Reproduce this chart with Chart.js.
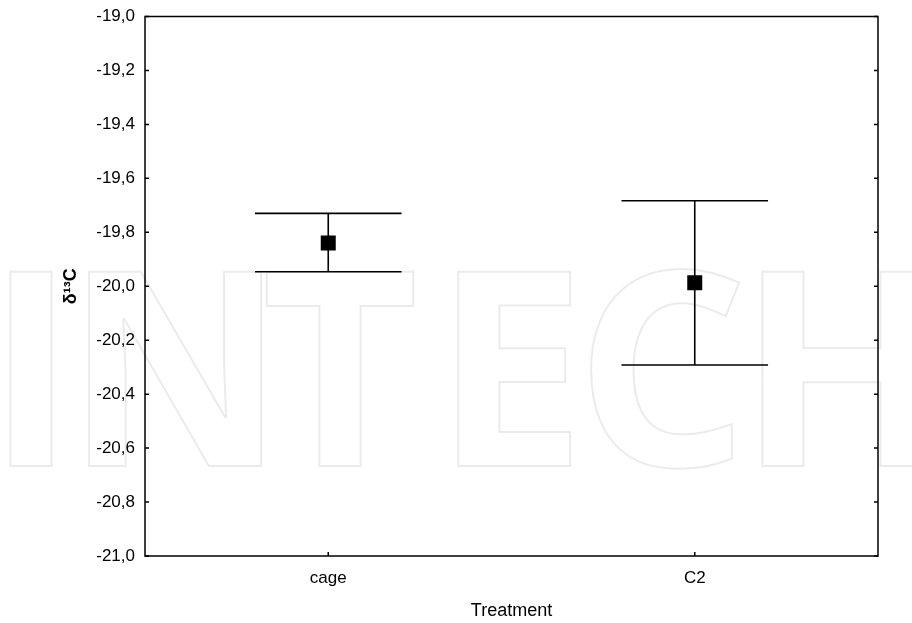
<!DOCTYPE html>
<html lang="en">
<head>
  <meta charset="UTF-8">
  <title>δ13C by treatment</title>
  <script src="https://cdn.jsdelivr.net/npm/chart.js"></script>
  <style>
    html, body {
      margin: 0;
      padding: 0;
      background: #fff;
    }
    #wrap {
      width: 912px;
      height: 623px;
    }
  </style>
</head>
<body>
  <div id="wrap"><canvas id="chart" width="912" height="623"></canvas></div>

  <script>
    // values
    const treatments = ['cage', 'C2'];
    const means = [-19.84, -19.987];
    const upper = [-19.73, -19.683];
    const lower = [-19.946, -20.292];

    const FONT = 'Arial, "Liberation Sans", sans-serif';

    // faint publisher watermark behind the plot, letter by letter
    const watermark = {
      id: 'watermark',
      beforeDraw(chart) {
        const ctx = chart.ctx;
        const letters = [['I', 31], ['N', 175], ['T', 340], ['E', 510], ['C', 662], ['H', 842]];
        ctx.save();
        ctx.font = 'bold 272px "Open Sans", sans-serif';
        ctx.textAlign = 'center';
        ctx.textBaseline = 'alphabetic';
        ctx.strokeStyle = '#ebebeb';
        ctx.lineWidth = 2;
        letters.forEach(([ch, cx]) => ctx.strokeText(ch, cx, 466));
        ctx.restore();
      }
    };

    // error bars with wide caps, drawn under the squares
    const errorBars = {
      id: 'errorBars',
      beforeDatasetsDraw(chart) {
        const {ctx, scales: {x, y}} = chart;
        const half = (x.getPixelForValue(1) - x.getPixelForValue(0)) * 0.2;
        ctx.save();
        ctx.strokeStyle = '#000';
        ctx.lineWidth = 1.6;
        treatments.forEach((t, i) => {
          const px = x.getPixelForValue(i);
          const yt = y.getPixelForValue(upper[i]);
          const yb = y.getPixelForValue(lower[i]);
          ctx.beginPath();
          ctx.moveTo(px, yt);
          ctx.lineTo(px, yb);
          ctx.moveTo(px - half, yt);
          ctx.lineTo(px + half, yt);
          ctx.moveTo(px - half, yb);
          ctx.lineTo(px + half, yb);
          ctx.stroke();
        });
        ctx.restore();
      }
    };

    // box frame and inward ticks
    const frame = {
      id: 'frame',
      afterDraw(chart) {
        const {ctx, chartArea: a, scales: {x, y}} = chart;
        ctx.save();
        ctx.strokeStyle = '#000';
        ctx.lineWidth = 1.5;
        ctx.strokeRect(a.left, a.top, a.right - a.left, a.bottom - a.top);
        ctx.beginPath();
        y.ticks.forEach(t => {
          const py = y.getPixelForValue(t.value);
          ctx.moveTo(a.left, py);
          ctx.lineTo(a.left + 4, py);
          ctx.moveTo(a.right, py);
          ctx.lineTo(a.right - 4, py);
        });
        treatments.forEach((t, i) => {
          const px = x.getPixelForValue(i);
          ctx.moveTo(px, a.bottom);
          ctx.lineTo(px, a.bottom - 4);
        });
        ctx.stroke();
        ctx.restore();
      }
    };

    new Chart(document.getElementById('chart'), {
      type: 'line',
      data: {
        labels: treatments,
        datasets: [{
          label: 'δ13C',
          data: means,
          showLine: false,
          pointStyle: 'rect',
          pointRadius: 10.6,
          pointHoverRadius: 10.6,
          pointBackgroundColor: '#000',
          pointBorderColor: '#000',
          pointBorderWidth: 0
        }]
      },
      options: {
        responsive: false,
        animation: false,
        events: [],
        layout: {
          padding: { top: 16.5, right: 34, left: 0, bottom: 0 }
        },
        plugins: {
          legend: { display: false },
          tooltip: { enabled: false }
        },
        scales: {
          x: {
            type: 'category',
            offset: true,
            grid: { display: false, drawTicks: false },
            border: { display: false },
            ticks: {
              color: '#000',
              padding: 12,
              font: { family: FONT, size: 17 }
            },
            title: {
              display: true,
              text: 'Treatment',
              color: '#000',
              font: { family: FONT, size: 18 },
              padding: { top: 0, bottom: 1 }
            },
            afterFit(scale) {
              scale.height = 67;
              scale.paddingLeft = 0;
              scale.paddingRight = 0;
            }
          },
          y: {
            min: -21,
            max: -19,
            grid: { display: false, drawTicks: false },
            border: { display: false },
            ticks: {
              stepSize: 0.2,
              color: '#000',
              padding: 10,
              font: { family: FONT, size: 17 },
              callback: v => v.toFixed(1).replace('.', ',')
            },
            title: {
              display: true,
              text: 'δ¹³C',
              color: '#000',
              font: { family: FONT, size: 18, weight: 'bold' },
              padding: { top: 60, bottom: 0 }
            },
            afterFit(scale) {
              scale.width = 145;
              scale.paddingTop = 0;
              scale.paddingBottom = 0;
            }
          }
        }
      },
      plugins: [watermark, errorBars, frame]
    });
  </script>
</body>
</html>
